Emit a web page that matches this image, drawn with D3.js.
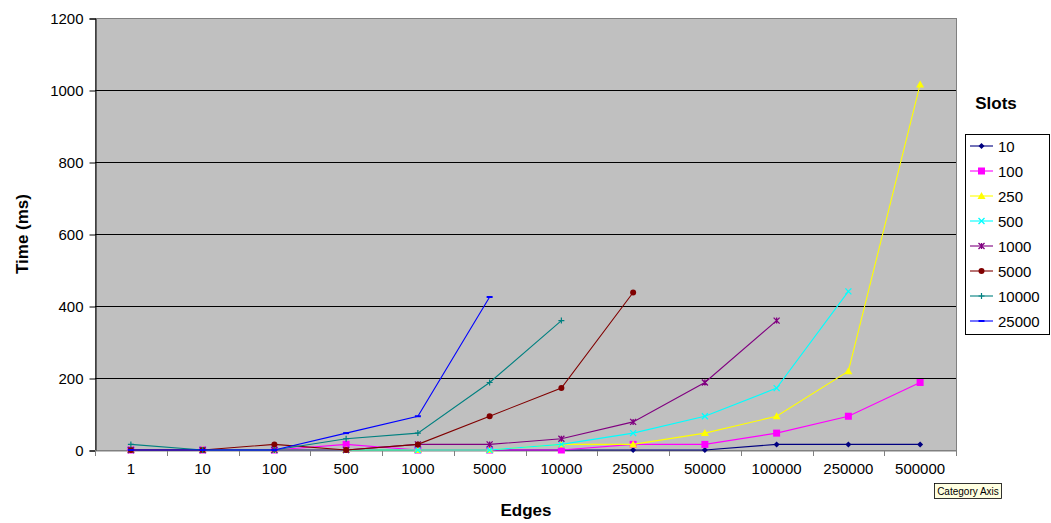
<!DOCTYPE html>
<html><head><meta charset="utf-8">
<script src="https://cdn.jsdelivr.net/npm/d3@7"></script>
<style>
html,body{margin:0;padding:0;background:#fff;}
svg{display:block;font-family:"Liberation Sans",Arial,sans-serif;}
</style></head>
<body>
<svg id="chart" width="1051" height="523"></svg>
<script>
const categories = ["1","10","100","500","1000","5000","10000","25000","50000","100000","250000","500000"];
const yTicks = [0,200,400,600,800,1000,1200];
const seriesNames = ["10","100","250","500","1000","5000","10000","25000"];
const s10    = [0,0,0,0,0,0,0,0,0,15.6,15.6,15.6];
const s100   = [0,0,0,15.6,0,0,0,15.6,15.6,46.9,93.8,187.5];
const s250   = [0,0,0,0,0,0,15.6,15.6,46.9,93.8,218.8,1015.6];
const s500   = [0,0,0,0,0,0,15.6,46.9,93.8,171.9,440.6,null];
const s1000  = [0,0,0,0,15.6,15.6,31.3,78.1,187.5,359.4,null,null];
const s5000  = [0,0,15.6,0,15.6,93.8,171.9,437.5,null,null,null,null];
const s10000 = [15.6,0,0,31.3,46.9,187.5,359.4,null,null,null,null,null];
const s25000 = [0,0,0,46.9,93.8,425,null,null,null,null,null,null];
const seriesValues = [s10,s100,s250,s500,s1000,s5000,s10000,s25000];
const colors = ["#000080","#FF00FF","#FFFF00","#00FFFF","#800080","#800000","#008080","#0000FF"];
const markers = ["diamond","square","triangle","x","star","circle","plus","dash"];

const svg = d3.select("#chart");
const L = 95, R = 956, T = 18, B = 450;
const x = d3.scaleBand().domain(categories).range([L, R]);
const y = d3.scaleLinear().domain([0,1200]).range([B, T]);

// plot area
svg.append("rect").attr("x",L+0.5).attr("y",T+0.5).attr("width",R-L).attr("height",B-T)
  .attr("fill","#C0C0C0").attr("stroke","#808080").attr("stroke-width",1);

// gridlines
svg.append("g").selectAll("line").data(yTicks.filter(d=>d>0 && d<1200)).join("line")
  .attr("x1",L).attr("x2",R).attr("y1",d=>y(d)+0.5).attr("y2",d=>y(d)+0.5)
  .attr("stroke","#000").attr("stroke-width",1);

// y axis
const yAxis = d3.axisLeft(y).tickValues(yTicks).tickFormat(d3.format("d")).tickSize(6).tickPadding(6);
const gy = svg.append("g").attr("transform",`translate(${L+0.5},0.5)`).call(yAxis);
gy.select(".domain").attr("stroke","#000");
gy.selectAll(".tick line").attr("stroke","#000");
gy.selectAll("text").attr("font-size",15).attr("fill","#000").attr("font-family","Liberation Sans, Arial");

// x axis
const xAxis = d3.axisBottom(x).tickSize(0).tickPadding(13);
const gx = svg.append("g").attr("transform",`translate(0,${B+0.5})`).call(xAxis);
gx.select(".domain").attr("stroke","#808080");
gx.selectAll("text").attr("font-size",15).attr("fill","#000").attr("font-family","Liberation Sans, Arial");
// category boundary ticks
const bounds = categories.map(c=>x(c)).concat([R]);
svg.append("g").selectAll("line").data(bounds).join("line")
  .attr("x1",d=>Math.round(d)+0.5).attr("x2",d=>Math.round(d)+0.5)
  .attr("y1",B).attr("y2",B+6).attr("stroke","#808080");

// axis titles
svg.append("text").attr("transform","translate(28,234) rotate(-90)")
  .attr("text-anchor","middle").attr("font-size",17).attr("font-weight","bold").text("Time (ms)");
svg.append("text").attr("x",526).attr("y",516).attr("text-anchor","middle")
  .attr("font-size",17).attr("font-weight","bold").text("Edges");

// marker drawer
function drawMarker(g, type, color, cx, cy){
  const s = 3;
  if(type==="diamond"){
    g.append("path").attr("d",`M${cx},${cy-s}L${cx+s},${cy}L${cx},${cy+s}L${cx-s},${cy}Z`).attr("fill",color);
  } else if(type==="square"){
    g.append("rect").attr("x",cx-3.5).attr("y",cy-3.5).attr("width",7).attr("height",7).attr("fill",color);
  } else if(type==="triangle"){
    g.append("path").attr("d",`M${cx},${cy-4}L${cx+4},${cy+3}L${cx-4},${cy+3}Z`).attr("fill",color);
  } else if(type==="x"){
    g.append("path").attr("d",`M${cx-3},${cy-3}L${cx+3},${cy+3}M${cx+3},${cy-3}L${cx-3},${cy+3}`).attr("stroke",color).attr("stroke-width",1.3);
  } else if(type==="star"){
    g.append("path").attr("d",`M${cx-3},${cy-3}L${cx+3},${cy+3}M${cx+3},${cy-3}L${cx-3},${cy+3}M${cx},${cy-3}L${cx},${cy+3}`).attr("stroke",color).attr("stroke-width",1.3);
  } else if(type==="circle"){
    g.append("circle").attr("cx",cx).attr("cy",cy).attr("r",3).attr("fill",color);
  } else if(type==="plus"){
    g.append("path").attr("d",`M${cx-3},${cy}L${cx+3},${cy}M${cx},${cy-3}L${cx},${cy+3}`).attr("stroke",color).attr("stroke-width",1.2);
  } else if(type==="dash"){
    g.append("path").attr("d",`M${cx-3},${cy}L${cx+3},${cy}`).attr("stroke",color).attr("stroke-width",2);
  }
}

const cx = c => x(c) + x.bandwidth()/2;
const line = d3.line().defined(d=>d.v!==null).x(d=>cx(d.c)).y(d=>y(d.v));

seriesValues.forEach((vals,i)=>{
  const pts = vals.map((v,j)=>({c:categories[j], v:v}));
  const g = svg.append("g");
  g.append("path").datum(pts).attr("d",line).attr("fill","none")
    .attr("stroke",colors[i]).attr("stroke-width",1.1);
  pts.filter(p=>p.v!==null).forEach(p=>drawMarker(g, markers[i], colors[i], cx(p.c), y(p.v)));
});

// legend
svg.append("text").attr("x",996).attr("y",109).attr("text-anchor","middle")
  .attr("font-size",17).attr("font-weight","bold").text("Slots");
svg.append("rect").attr("x",965.5).attr("y",134.5).attr("width",84).attr("height",200)
  .attr("fill","#fff").attr("stroke","#000");
seriesNames.forEach((n,i)=>{
  const ly = 146 + i*25;
  const g = svg.append("g");
  g.append("line").attr("x1",970).attr("x2",993).attr("y1",ly).attr("y2",ly)
    .attr("stroke",colors[i]).attr("stroke-width",1.1);
  drawMarker(g, markers[i], colors[i], 981.5, ly);
  g.append("text").attr("x",998).attr("y",ly+5.5).attr("font-size",15).text(n);
});

// tooltip
const tip = svg.append("g");
tip.append("rect").attr("x",934.5).attr("y",483.5).attr("width",67).attr("height",15)
  .attr("fill","#FFFFE1").attr("stroke","#000").attr("stroke-width",0.8);
tip.append("text").attr("x",968).attr("y",494.5).attr("text-anchor","middle")
  .attr("font-size",10).text("Category Axis");
</script>
</body></html>
